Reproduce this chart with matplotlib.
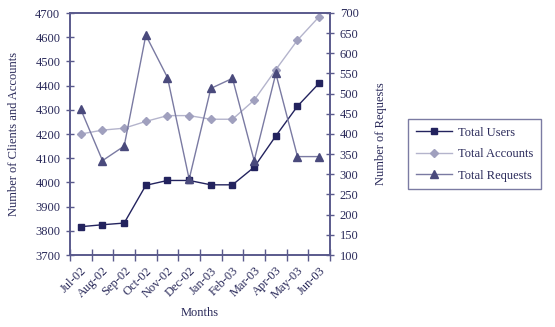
import matplotlib
matplotlib.use("Agg")
import matplotlib.pyplot as plt

months = ["Jul-02", "Aug-02", "Sep-02", "Oct-02", "Nov-02", "Dec-02",
          "Jan-03", "Feb-03", "Mar-03", "Apr-03", "May-03", "Jun-03"]
total_users = [3817, 3825, 3832, 3988, 4008, 4008, 3990, 3990, 4063, 4192, 4315, 4410]
total_accounts = [4200, 4216, 4224, 4252, 4276, 4276, 4261, 4261, 4340, 4466, 4588, 4685]
total_requests = [461, 334, 370, 645, 540, 288, 513, 538, 334, 550, 344, 344]

plt.rcParams['font.family'] = ['Liberation Serif', 'DejaVu Serif']
txt = '#2a2a5a'
spine = '#5a5a8c'
fs = 9

fig = plt.figure(figsize=(5.55, 3.27), dpi=100)
ax = fig.add_axes([70/555, 1-255/327, 260/555, 242/327])
ax2 = ax.twinx()

x = list(range(len(months)))
l1, = ax.plot(x, total_users, color='#23235e', lw=1.0, marker='s', ms=5,
              mfc='#23235e', mec='#23235e', label='Total Users', zorder=3)
l2, = ax.plot(x, total_accounts, color='#b4b4cc', lw=1.0, marker='D', ms=4,
              mfc='#a0a0be', mec='#a0a0be', label='Total Accounts', zorder=2)
l3, = ax2.plot(x, total_requests, color='#7a7aa2', lw=1.0, marker='^', ms=6,
               mfc='#4a4a7c', mec='#4a4a7c', label='Total Requests', zorder=3)

ax.set_xlim(-0.5, len(months) - 0.5)
ax.set_ylim(3700, 4700)
ax.set_yticks(range(3700, 4701, 100))
ax2.set_ylim(100, 700)
ax2.set_yticks(range(100, 701, 50))

ax.set_xticks(x)
ax.set_xticklabels(months, rotation=45, ha='right', rotation_mode='anchor',
                   fontsize=fs, color=txt)
ax.set_xticks([i - 0.5 for i in range(len(months) + 1)], minor=True)
ax.tick_params(axis='x', which='major', length=0, pad=7)
ax.tick_params(axis='x', which='minor', direction='inout', length=8, color=spine, width=1)
ax.tick_params(axis='y', direction='inout', length=6, color=spine, width=1,
               labelsize=fs, labelcolor=txt, pad=4)
ax2.tick_params(axis='y', direction='inout', length=6, color=spine, width=1,
                labelsize=fs, labelcolor=txt, pad=4)

for a in (ax, ax2):
    for s in a.spines.values():
        s.set_color(spine)
        s.set_linewidth(1.2)

ax.set_xlabel('Months', fontsize=fs, color=txt, labelpad=4)
ax.set_ylabel('Number of Clients and Accounts', fontsize=fs, color=txt, labelpad=11)
ax2.set_ylabel('Number of Requests', fontsize=fs, color=txt, labelpad=12)

leg = fig.legend(handles=[l1, l2, l3], loc='upper left',
                 bbox_to_anchor=(402/555, 1-113/327), fontsize=fs,
                 frameon=True, fancybox=False, edgecolor=spine,
                 handlelength=2.9, labelspacing=0.75, borderpad=0.6,
                 handletextpad=0.5)
leg.get_frame().set_linewidth(1.0)
for t in leg.get_texts():
    t.set_color(txt)

fig.savefig('out.png', dpi=100)
